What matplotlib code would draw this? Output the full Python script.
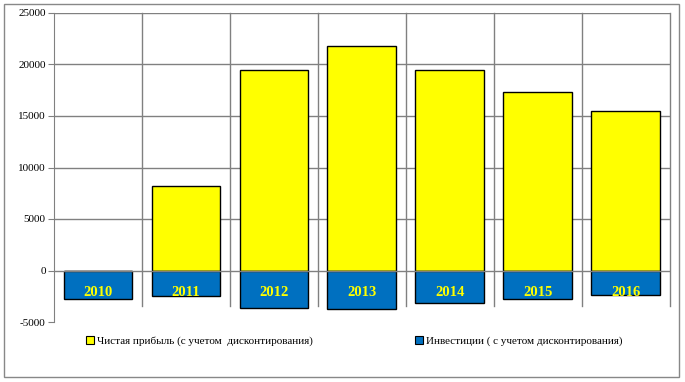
import matplotlib.pyplot as plt
from matplotlib.patches import Patch, Rectangle

years = ['2010', '2011', '2012', '2013', '2014', '2015', '2016']
profit = [0, 8200, 19500, 21750, 19500, 17350, 15500]
invest = [-2750, -2450, -3600, -3730, -3110, -2720, -2400]
yticks = [-5000, 0, 5000, 10000, 15000, 20000, 25000]
profit_name = 'Чистая прибыль (с учетом  дисконтирования)'
invest_name = 'Инвестиции ( с учетом дисконтирования)'

plt.rcParams['font.family'] = ['Liberation Serif', 'DejaVu Serif']

fig = plt.figure(figsize=(6.85, 3.82), dpi=100)
ax = fig.add_axes([54 / 685, 1 - 322 / 382, 615.5 / 685, 309 / 382])

x = list(range(len(years)))
ax.bar(x, profit, width=0.78, color='#FFFF00', edgecolor='black', linewidth=1, zorder=3)
ax.bar(x, invest, width=0.78, color='#0070C0', edgecolor='black', linewidth=1, zorder=3)

for i, y in enumerate(years):
	ax.text(i, -2140, y, ha='center', va='center', color='#FFFF00', fontsize=10.5, fontweight='bold', zorder=4)

ax.set_xlim(-0.5, len(years) - 0.5)
ax.set_ylim(-5000, 25000)
ax.set_yticks(yticks)
ax.set_yticklabels([str(t) for t in yticks], fontsize=8)
ax.set_xticks([])
ax.tick_params(axis='y', direction='out', length=4, color='#808080', pad=2)

for s in ['top', 'right', 'bottom']:
	ax.spines[s].set_visible(False)
ax.spines['left'].set_color('#808080')

for t in yticks[2:]:
	ax.axhline(t, color='#808080', linewidth=1, zorder=1)
ax.axhline(0, color='#808080', linewidth=1, zorder=5)
for i in range(1, len(years) + 1):
	ax.plot([i - 0.5, i - 0.5], [-3470, 25000], color='#808080', linewidth=1, zorder=1, clip_on=False)

fig.patches.append(Rectangle((4 / 685, 1 - 377 / 382), 675 / 685, 373 / 382, transform=fig.transFigure,
	fill=False, edgecolor='#888888', linewidth=1))

h1 = Patch(facecolor='#FFFF00', edgecolor='black', linewidth=0.8)
h2 = Patch(facecolor='#0070C0', edgecolor='black', linewidth=0.8)
fig.legend([h1], [profit_name], loc='center left', bbox_to_anchor=(86 / 685, 1 - 341 / 382), frameon=False,
	fontsize=8, handlelength=0.7, handleheight=0.7, handletextpad=0.3, borderpad=0, borderaxespad=0)
fig.legend([h2], [invest_name], loc='center left', bbox_to_anchor=(415 / 685, 1 - 341 / 382), frameon=False,
	fontsize=8, handlelength=0.7, handleheight=0.7, handletextpad=0.3, borderpad=0, borderaxespad=0)

fig.savefig('out.png', dpi=100)
